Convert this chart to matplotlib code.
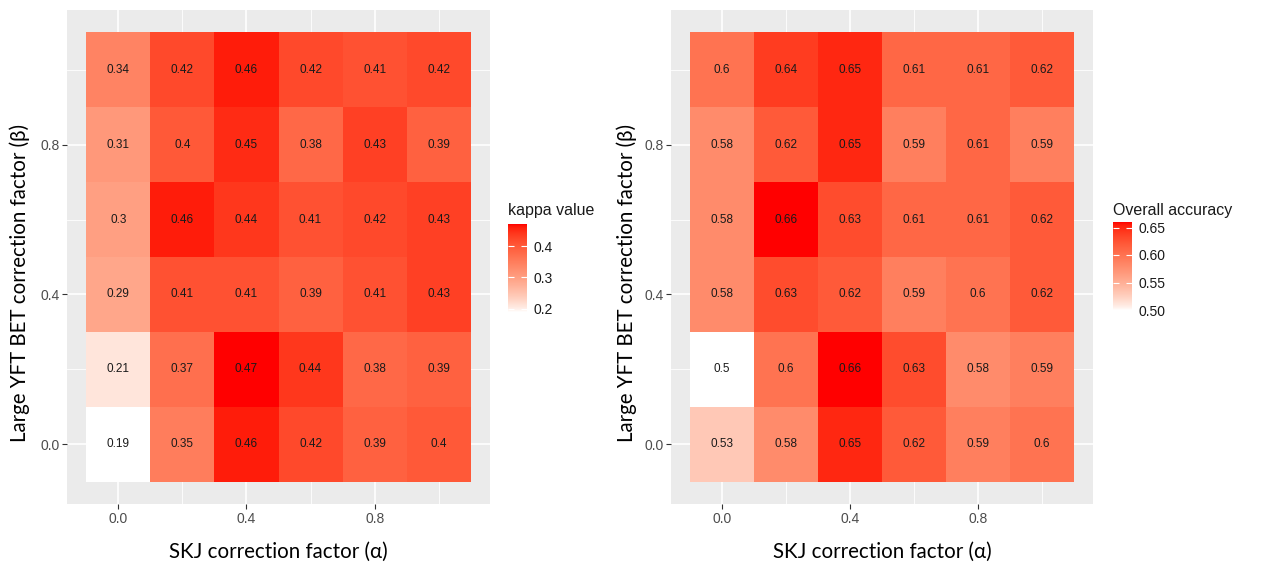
import numpy as np
import matplotlib
matplotlib.use("Agg")
import matplotlib.pyplot as plt
from matplotlib.colors import ListedColormap, Normalize

# ---------------- data ----------------
alpha_vals = [0.0, 0.2, 0.4, 0.6, 0.8, 1.0]   # SKJ correction factor (x)
beta_vals = [0.0, 0.2, 0.4, 0.6, 0.8, 1.0]    # Large YFT BET correction factor (y)

# rows: beta = 0.0 ... 1.0 ; columns: alpha = 0.0 ... 1.0
kappa = [
    [0.19, 0.35, 0.46, 0.42, 0.39, 0.40],
    [0.21, 0.37, 0.47, 0.44, 0.38, 0.39],
    [0.29, 0.41, 0.41, 0.39, 0.41, 0.43],
    [0.30, 0.46, 0.44, 0.41, 0.42, 0.43],
    [0.31, 0.40, 0.45, 0.38, 0.43, 0.39],
    [0.34, 0.42, 0.46, 0.42, 0.41, 0.42],
]
accuracy = [
    [0.53, 0.58, 0.65, 0.62, 0.59, 0.60],
    [0.50, 0.60, 0.66, 0.63, 0.58, 0.59],
    [0.58, 0.63, 0.62, 0.59, 0.60, 0.62],
    [0.58, 0.66, 0.63, 0.61, 0.61, 0.62],
    [0.58, 0.62, 0.65, 0.59, 0.61, 0.59],
    [0.60, 0.64, 0.65, 0.61, 0.61, 0.62],
]
x_ticks = [0.0, 0.4, 0.8]
y_ticks = [0.0, 0.4, 0.8]
kappa_cbar_ticks = [0.2, 0.3, 0.4]
acc_cbar_ticks = [0.50, 0.55, 0.60, 0.65]

# ---------------- colour map: white -> red interpolated in Lab (like ggplot) ----------------
def srgb_to_lab(rgb):
    rgb = np.asarray(rgb, float)
    lin = np.where(rgb <= 0.04045, rgb / 12.92, ((rgb + 0.055) / 1.055) ** 2.4)
    M = np.array([[0.4124, 0.3576, 0.1805],
                  [0.2126, 0.7152, 0.0722],
                  [0.0193, 0.1192, 0.9505]])
    xyz = M @ lin
    wp = np.array([0.95047, 1.0, 1.08883])
    t = xyz / wp
    f = np.where(t > (6/29) ** 3, np.cbrt(t), t / (3 * (6/29) ** 2) + 4/29)
    return np.array([116 * f[1] - 16, 500 * (f[0] - f[1]), 200 * (f[1] - f[2])])

def lab_to_srgb(lab):
    L, a, b = lab
    fy = (L + 16) / 116
    fx = fy + a / 500
    fz = fy - b / 200
    def finv(f):
        return np.where(f > 6/29, f ** 3, 3 * (6/29) ** 2 * (f - 4/29))
    wp = np.array([0.95047, 1.0, 1.08883])
    xyz = np.array([finv(fx), finv(fy), finv(fz)]) * wp
    Minv = np.array([[3.2406, -1.5372, -0.4986],
                     [-0.9689, 1.8758, 0.0415],
                     [0.0557, -0.2040, 1.0570]])
    lin = Minv @ xyz
    lin = np.clip(lin, 0, 1)
    rgb = np.where(lin <= 0.0031308, 12.92 * lin, 1.055 * lin ** (1/2.4) - 0.055)
    return np.clip(rgb, 0, 1)

lab_w = srgb_to_lab([1, 1, 1])
lab_r = srgb_to_lab([1, 0, 0])
cols = [lab_to_srgb(lab_w + (lab_r - lab_w) * (t ** 0.75)) for t in np.linspace(0, 1, 256)]
cmap = ListedColormap(cols)

# ---------------- figure ----------------
W, H = 1262, 565
fig = plt.figure(figsize=(W / 100, H / 100), dpi=100)
fig.patch.set_facecolor("white")

def px_axes(x0, y0, x1, y1):
    return fig.add_axes([x0 / W, 1 - y1 / H, (x1 - x0) / W, (y1 - y0) / H])

label_font = ["Lato", "DejaVu Sans"]
num_font = ["Liberation Sans", "DejaVu Sans"]

def heat_panel(ax, values, norm, ylab_x):
    vals = np.asarray(values, float)
    xs = np.asarray(alpha_vals)
    ys = np.asarray(beta_vals)
    dx = (xs[1] - xs[0]) / 2
    dy = (ys[1] - ys[0]) / 2
    xe = np.concatenate([xs - dx, [xs[-1] + dx]])
    ye = np.concatenate([ys - dy, [ys[-1] + dy]])
    ax.set_facecolor("#EBEBEB")
    # grid
    for v in [0.2, 0.6, 1.0]:
        ax.axvline(v, color="white", lw=0.6, zorder=0)
        ax.axhline(v, color="white", lw=0.6, zorder=0)
    for v in x_ticks:
        ax.axvline(v, color="white", lw=1.2, zorder=0)
    for v in y_ticks:
        ax.axhline(v, color="white", lw=1.2, zorder=0)
    mesh = ax.pcolormesh(xe, ye, vals, cmap=cmap, norm=norm, zorder=1)
    for i, yv in enumerate(ys):
        for j, xv in enumerate(xs):
            ax.text(xv, yv, f"{vals[i, j]:g}", ha="center", va="center",
                    fontsize=8.5, color="#1A1A1A", family=num_font, zorder=2)
    span_x = xe[-1] - xe[0]
    span_y = ye[-1] - ye[0]
    ax.set_xlim(xe[0] - 0.05 * span_x, xe[-1] + 0.05 * span_x)
    ax.set_ylim(ye[0] - 0.05 * span_y, ye[-1] + 0.05 * span_y)
    ax.set_xticks(x_ticks)
    ax.set_yticks(y_ticks)
    ax.set_xticklabels([f"{t:.1f}" for t in x_ticks], family=num_font)
    ax.set_yticklabels([f"{t:.1f}" for t in y_ticks], family=num_font)
    ax.tick_params(axis="both", length=3.5, width=0.8, color="#333333",
                   labelcolor="#4D4D4D", labelsize=10, pad=2)
    for s in ax.spines.values():
        s.set_visible(False)
    ax.set_xlabel("SKJ correction factor (α)", fontsize=14.8, family=label_font,
                  color="black", labelpad=12)
    ax.set_ylabel("Large YFT BET correction factor (β)", fontsize=14.8,
                  family=label_font, color="black")
    ax.yaxis.set_label_coords(ylab_x, 0.5, transform=fig.transFigure)
    return mesh

def colorbar(mesh, x0, y_lo, y_hi, ticks, fmt, title, yt):
    cax = px_axes(x0, y_hi, x0 + 19, y_lo)
    cb = fig.colorbar(mesh, cax=cax)
    cb.outline.set_visible(False)
    cb.set_ticks(ticks)
    cb.set_ticklabels([fmt.format(t) for t in ticks])
    cax.tick_params(axis="y", direction="in", length=4, width=0.8, color="white",
                    left=True, right=True, labelsize=10, labelcolor="#1A1A1A", pad=5)
    for lab in cax.get_yticklabels():
        lab.set_family(num_font)
    fig.text(x0 / W, 1 - yt / H, title, fontsize=11.5, family=num_font,
             color="#1A1A1A", ha="left", va="center")

# left panel
axL = px_axes(67, 10, 490, 504)
kn = Normalize(vmin=np.min(kappa), vmax=np.max(kappa))
mL = heat_panel(axL, kappa, kn, 30 / W)
colorbar(mL, 508, 312, 224, kappa_cbar_ticks, "{:.1f}", "kappa value", 211)

# right panel
axR = px_axes(671, 10, 1093, 504)
an = Normalize(vmin=np.min(accuracy), vmax=np.max(accuracy))
mR = heat_panel(axR, accuracy, an, 637 / W)
colorbar(mR, 1113, 310, 222, acc_cbar_ticks, "{:.2f}", "Overall accuracy", 211)

fig.savefig("out.png", dpi=100, facecolor="white")
